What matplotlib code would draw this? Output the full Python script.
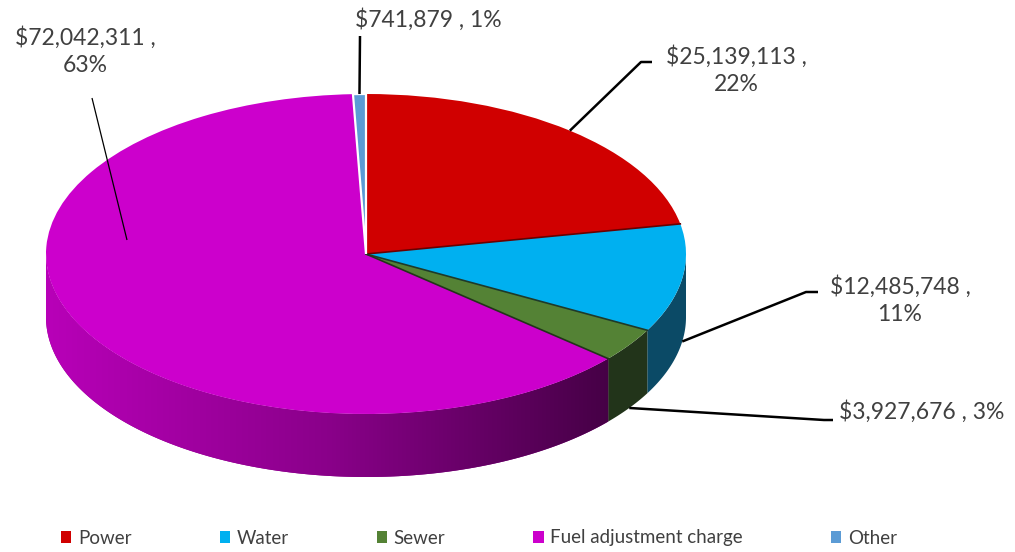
import numpy as np
import matplotlib.pyplot as plt
from matplotlib.patches import Polygon, Patch
from matplotlib.colors import LinearSegmentedColormap

# data
categories = ['Power', 'Water', 'Sewer', 'Fuel adjustment charge', 'Other']
amounts = [25139113, 12485748, 3927676, 72042311, 741879]
amount_labels = ['$25,139,113', '$12,485,748', '$3,927,676', '$72,042,311', '$741,879']
percent_labels = ['22%', '11%', '3%', '63%', '1%']

top_colors = ['#D00000', '#00B0F0', '#548235', '#CC00CC', '#5B9BD5']
wall_colors = ['#7A0000', '#0B4A66', '#22341A', '#8A008A', '#2E5A80']
edge_colors = ['#6A0000', '#1E3A2A', '#22341A', '#7A007A', '#2E5A80']

plt.rcParams['font.family'] = ['Lato', 'DejaVu Sans']
TXT = '#404040'

W, H = 1015, 552
cx, cy = 366, 254      # centre of top face in pixels (from top-left)
rx, ry = 320, 160      # ellipse radii in pixels
depth = 63 / ry        # wall height in data units


def px(x, y):
    # pixel position -> data coordinates of the pie axes
    return (x - cx) / rx, (cy - y) / ry


fig = plt.figure(figsize=(W / 100, H / 100), dpi=100)
ax = fig.add_axes([0, 0, 1, 1])
wedges, _ = ax.pie(amounts, startangle=90, counterclock=False, colors=top_colors,
                   wedgeprops=dict(linewidth=0, zorder=3))
ax.set_aspect('auto')
ax.set_xlim(-cx / rx, (W - cx) / rx)
ax.set_ylim(-(H - cy) / ry, cy / ry)
ax.axis('off')

# side walls for the front half of the pie
fuel_cmap = LinearSegmentedColormap.from_list('fuel', ['#B800B8', '#8A008A', '#460046'])
for i, w in enumerate(wedges):
    for lo, hi in [(-180, 0), (-540, -360)]:
        a, b = max(w.theta1, lo), min(w.theta2, hi)
        if b <= a:
            continue
        t = np.radians(np.linspace(a, b, 200))
        xs = np.concatenate([np.cos(t), np.cos(t[::-1])])
        ys = np.concatenate([np.sin(t), np.sin(t[::-1]) - depth])
        poly = Polygon(np.column_stack([xs, ys]), closed=True, zorder=2,
                       facecolor=wall_colors[i], edgecolor='none')
        ax.add_patch(poly)
        if categories[i].startswith('Fuel'):
            grad = np.linspace(0, 1, 256).reshape(1, -1)
            im = ax.imshow(grad, cmap=fuel_cmap, aspect='auto', zorder=2.1,
                           extent=(xs.min(), xs.max(), ys.min(), ys.max()))
            im.set_clip_path(poly)

# dark seams between the slices on the top face
for i in range(3):
    t = np.radians(wedges[i].theta1)
    ax.plot([0, np.cos(t)], [0, np.sin(t)], color=edge_colors[i], lw=1.2, zorder=4)

# small "Other" slice with white gaps around it
wedges[4].set_edgecolor('white')
wedges[4].set_linewidth(1.6)
wedges[4].set_zorder(5)

# data labels with leader lines
def anchor(i, on_wall):
    m = np.radians((wedges[i].theta1 + wedges[i].theta2) / 2)
    return np.cos(m), np.sin(m) - (depth if on_wall else 0)

label_layout = [
    # text x, text y (pixels), two lines?, leader points (pixels), anchor
    (736, 70, True, [(641, 62), (652, 62)], anchor(0, False)),
    (900, 300, True, [(806, 292), (818, 292)], anchor(1, True)),
    (922, 412, False, [(824, 420), (833, 420)], anchor(2, True)),
    (85, 51, True, [(92, 98)], px(127, 240)),
    (428, 20, False, [(360, 36)], anchor(4, False)),
]
for i, (tx, ty, two, pts, anc) in enumerate(label_layout):
    sep = '\n' if two else ' '
    ax.text(*px(tx, ty), amount_labels[i] + ' ,' + sep + percent_labels[i],
            ha='center', va='center', fontsize=16.5, color=TXT,
            linespacing=1.4, zorder=6)
    line = [anc] + [px(x, y) for x, y in pts]
    lw = 0.9 if i == 3 else 1.8
    ax.plot([p[0] for p in line], [p[1] for p in line], color='black', lw=lw,
            zorder=6, solid_capstyle='butt')

handles = [Patch(facecolor=c, edgecolor='none') for c in top_colors]
fig.legend(handles, categories, loc='center', bbox_to_anchor=(479 / W, 1 - 538 / H),
           ncol=5, frameon=False, fontsize=13.5, labelcolor=TXT,
           handlelength=0.55, handleheight=0.6, handletextpad=0.35,
           columnspacing=4.7)

fig.savefig('out.png', dpi=100)
